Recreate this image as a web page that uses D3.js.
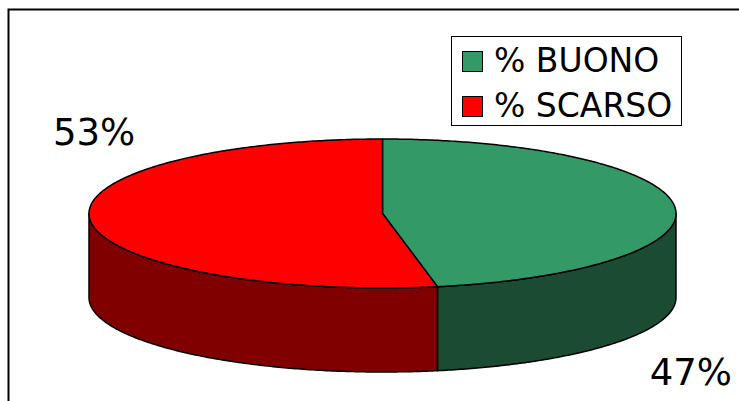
<!DOCTYPE html>
<html>
<head>
<meta charset="utf-8">
<script src="https://cdn.jsdelivr.net/npm/d3@7"></script>
<style>
  html, body { margin: 0; padding: 0; background: #fff; }
  svg { display: block; font-family: "DejaVu Sans", Verdana, sans-serif; }
</style>
</head>
<body>
<div id="chart"></div>
<script>
// data
var categories = ["% BUONO", "% SCARSO"];
var values = [47, 53];
var labels = ["47%", "53%"];
var topColors = ["#339966", "#ff0000"];
var sideColors = ["#1b4c33", "#800000"];

var W = 739, H = 401;
var cx = 382.5, cy = 213.5, rx = 293.5, ry = 74.5, depth = 84;

var svg = d3.select("#chart").append("svg")
    .attr("width", W)
    .attr("height", H);

// frame (only left and top edges are inside the picture)
svg.append("rect")
    .attr("x", 8.5).attr("y", 9.5)
    .attr("width", W + 10).attr("height", H + 10)
    .attr("fill", "#fff")
    .attr("stroke", "#000")
    .attr("stroke-width", 2);

var pie = d3.pie().sort(null).startAngle(0).endAngle(2 * Math.PI);
var arcs = pie(values);

function pt(a, dy) {
    return [cx + rx * Math.sin(a), cy - ry * Math.cos(a) + (dy || 0)];
}

function edge(a0, a1, dy) {
    var n = Math.max(2, Math.ceil(Math.abs(a1 - a0) / 0.01));
    var pts = [];
    for (var i = 0; i <= n; i++) {
        pts.push(pt(a0 + (a1 - a0) * i / n, dy));
    }
    return pts;
}

var line = d3.line();

// side walls, only the front half (pi/2 .. 3pi/2) shows
var sides = svg.append("g").attr("class", "sides");
arcs.forEach(function (d, i) {
    var a0 = Math.max(d.startAngle, Math.PI / 2);
    var a1 = Math.min(d.endAngle, 3 * Math.PI / 2);
    if (a1 <= a0) return;
    var upper = edge(a0, a1, 0);
    var lower = edge(a1, a0, depth);
    sides.append("path")
        .attr("d", line(upper.concat(lower)) + "Z")
        .attr("fill", sideColors[i])
        .attr("stroke", "#000")
        .attr("stroke-width", 1.5)
        .attr("stroke-linejoin", "round");
});

// top faces
var tops = svg.append("g").attr("class", "tops");
arcs.forEach(function (d, i) {
    var pts = [[cx, cy]].concat(edge(d.startAngle, d.endAngle, 0));
    tops.append("path")
        .attr("d", line(pts) + "Z")
        .attr("fill", topColors[i])
        .attr("stroke", "#000")
        .attr("stroke-width", 1.5)
        .attr("stroke-linejoin", "round");
});

// data labels
var labelPos = [
    { x: 732, y: 385, anchor: "end" },
    { x: 53, y: 145, anchor: "start" }
];
svg.append("g").selectAll("text")
    .data(arcs)
    .enter().append("text")
    .attr("x", function (d, i) { return labelPos[i].x; })
    .attr("y", function (d, i) { return labelPos[i].y; })
    .attr("text-anchor", function (d, i) { return labelPos[i].anchor; })
    .style("font-size", "37px")
    .attr("fill", "#000")
    .text(function (d, i) { return labels[i]; });

// legend
var legend = svg.append("g").attr("class", "legend");
legend.append("rect")
    .attr("x", 451.5).attr("y", 36.5)
    .attr("width", 230).attr("height", 89)
    .attr("fill", "#fff")
    .attr("stroke", "#000")
    .attr("stroke-width", 1);

var items = legend.selectAll("g.item")
    .data(categories)
    .enter().append("g")
    .attr("class", "item")
    .attr("transform", function (d, i) { return "translate(462," + (51 + i * 45) + ")"; });

items.append("rect")
    .attr("x", 0.5).attr("y", 0.5)
    .attr("width", 20).attr("height", 20)
    .attr("fill", function (d, i) { return topColors[i]; })
    .attr("stroke", "#000")
    .attr("stroke-width", 1);

items.append("text")
    .attr("x", 32)
    .attr("y", 21)
    .style("font-size", "33px")
    .attr("fill", "#000")
    .text(function (d) { return d; });
</script>
</body>
</html>
